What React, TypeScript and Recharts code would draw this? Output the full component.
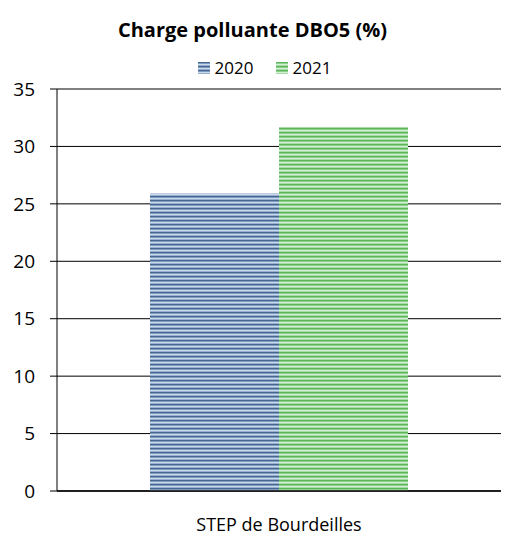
import React from "react";
import { BarChart, Bar, XAxis, YAxis, CartesianGrid } from "recharts";

const categories = ["STEP de Bourdeilles"];
const values2020 = [25.9];
const values2021 = [31.7];
const yTicks = [0, 5, 10, 15, 20, 25, 30, 35];

const data = categories.map((name, i) => ({
  name,
  y2020: values2020[i],
  y2021: values2021[i],
}));

const FONT = "'Open Sans', 'Liberation Sans', sans-serif";

const BLUE = ["#466790", "#7d9bc0", "#cad8ea", "#97b0cf"];
const GREEN = ["#59b659", "#8ecf8e", "#d4f0d4", "#a9dca9"];

function Stripes({ id, colors }: { id: string; colors: string[] }) {
  return (
    <pattern id={id} width={4} height={4} patternUnits="userSpaceOnUse">
      {colors.map((c, i) => (
        <rect key={i} x={0} y={i} width={4} height={1} fill={c} />
      ))}
    </pattern>
  );
}

function LegendBox() {
  const items = [
    { label: "2020", colors: BLUE, id: "lg2020" },
    { label: "2021", colors: GREEN, id: "lg2021" },
  ];
  return (
    <div
      style={{
        position: "absolute",
        top: 56,
        left: 12,
        width: 505,
        display: "flex",
        justifyContent: "center",
        gap: 22,
        fontFamily: FONT,
        fontSize: 17,
        lineHeight: "24px",
      }}
    >
      {items.map((it) => (
        <div key={it.id} style={{ display: "flex", alignItems: "center", gap: 5 }}>
          <svg width={12} height={12}>
            <defs>
              <Stripes id={it.id} colors={it.colors} />
            </defs>
            <rect width={12} height={12} fill={`url(#${it.id})`} />
          </svg>
          <span>{it.label}</span>
        </div>
      ))}
    </div>
  );
}

export default function App() {
  return (
    <div style={{ position: "absolute", left: 0, top: 0, width: 505, height: 539, background: "#fff" }}>
      <div
        style={{
          position: "absolute",
          top: 16,
          left: 0,
          width: 505,
          textAlign: "center",
          fontFamily: FONT,
          fontWeight: "bold",
          fontSize: 20,
          lineHeight: "28px",
        }}
      >
        Charge polluante DBO5 (%)
      </div>
      <LegendBox />
      <BarChart
        width={505}
        height={539}
        data={data}
        margin={{ top: 89, right: 4, left: 0, bottom: 0 }}
        barCategoryGap={93}
        barGap={0}
      >
        <defs>
          <Stripes id="p2020" colors={BLUE} />
          <Stripes id="p2021" colors={GREEN} />
        </defs>
        <CartesianGrid vertical={false} stroke="#000" strokeWidth={1} />
        <XAxis
          dataKey="name"
          axisLine={{ stroke: "#000", strokeWidth: 1.5 }}
          tickLine={false}
          height={48}
          tickMargin={21}
          tick={{ fill: "#000", fontFamily: FONT, fontSize: 18 }}
        />
        <YAxis
          domain={[0, 35]}
          ticks={yTicks}
          width={57}
          axisLine={{ stroke: "#000" }}
          tickLine={{ stroke: "#000" }}
          tickSize={7}
          tickMargin={15}
          tick={{ fill: "#000", fontFamily: FONT, fontSize: 19 }}
        />
        <Bar dataKey="y2020" name="2020" fill="url(#p2020)" isAnimationActive={false} />
        <Bar dataKey="y2021" name="2021" fill="url(#p2021)" isAnimationActive={false} />
      </BarChart>
    </div>
  );
}
